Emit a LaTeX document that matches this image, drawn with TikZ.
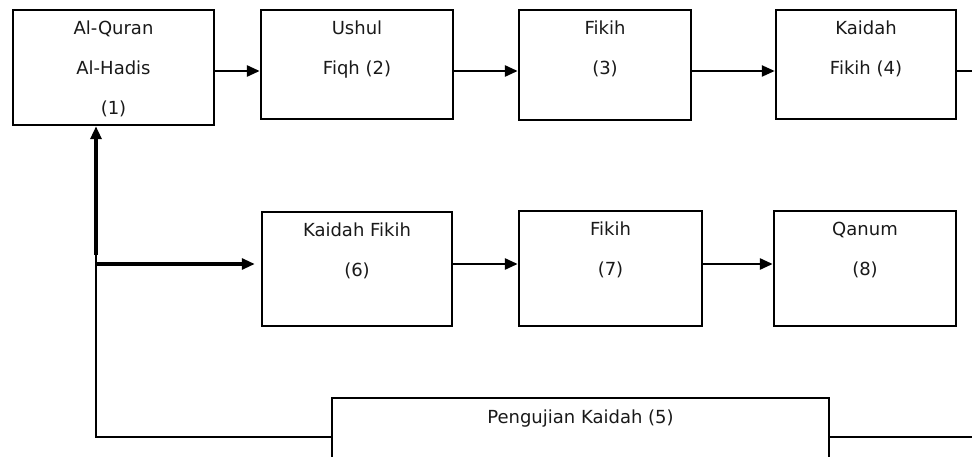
\documentclass[tikz,border=0pt]{standalone}
\usepackage{fontspec}
\setsansfont{DejaVu Sans}
\usetikzlibrary{arrows.meta,fit,positioning}

\begin{document}
\begin{tikzpicture}[x=1pt,y=-1pt,font=\sffamily\fontsize{18}{40}\selectfont,
	box/.style={draw,line width=2.5pt,inner sep=0pt},
	lbl/.style={inner sep=0pt,align=center,text=black!90},
	link/.style={line width=2.8pt,-{Triangle[length=13pt,width=11pt]}},
	back/.style={line width=1.6pt}]
	\useasboundingbox (0,0) rectangle (972,457);
	\clip (0,0) rectangle (972,457);
	% top and middle rows
	\foreach \n/\xa/\ya/\xb/\yb/\t in {
		quran/13/10/214/125/{Al-Quran\\Al-Hadis\\(1)},
		ushul/261/10/453/119/{Ushul\\Fiqh (2)},
		fikih/519/10/691/120/{Fikih\\(3)},
		kaidah/776/10/956/119/{Kaidah\\Fikih (4)},
		kfikih/262/212/452/326/{Kaidah Fikih\\(6)},
		fikihb/519/211/702/326/{Fikih\\(7)},
		qanum/774/211/956/326/{Qanum\\(8)}}{
		\node[box, fit={(\xa,\ya) (\xb,\yb)}] (\n) {};
		\node[lbl, below=12pt of \n.north] (\n-txt) {\t};
	}
	% bottom box, cut by the page edge
	\node[box, fit={(332,398) (829,480)}] (uji) {};
	\node[lbl, below=13pt of uji.north] (uji-txt) {Pengujian Kaidah (5)};

	\coordinate (r1) at (0,71);
	\coordinate (r2) at (0,264);
	\coordinate (r3) at (0,437);
	\coordinate (split) at (96,255);
	\coordinate (fork) at (96,264);
	\coordinate (edge4) at (972,71);
	\coordinate (edge5) at (972,437);

	\draw[link] (quran.east |- r1) -- (ushul.west |- r1);
	\draw[link] (ushul.east |- r1) -- (fikih.west |- r1);
	\draw[link, line width=2.4pt] (fikih.east |- r1) -- (kaidah.west |- r1);
	\draw[back] (kaidah.east |- r1) -- (edge4);
	\draw[link, line width=4pt] (split) -- (split |- quran.south);
	\draw[back] (split) -- (split |- r3) -- (uji.west |- r3);
	\draw[back] (uji.east |- r3) -- (edge5);
	\draw[link, line width=3pt, shorten >=6pt] (fork) -- (fork -| kfikih.west);
	\draw[link] (kfikih.east |- r2) -- (fikihb.west |- r2);
	\draw[link] (fikihb.east |- r2) -- (qanum.west |- r2);
\end{tikzpicture}
\end{document}
